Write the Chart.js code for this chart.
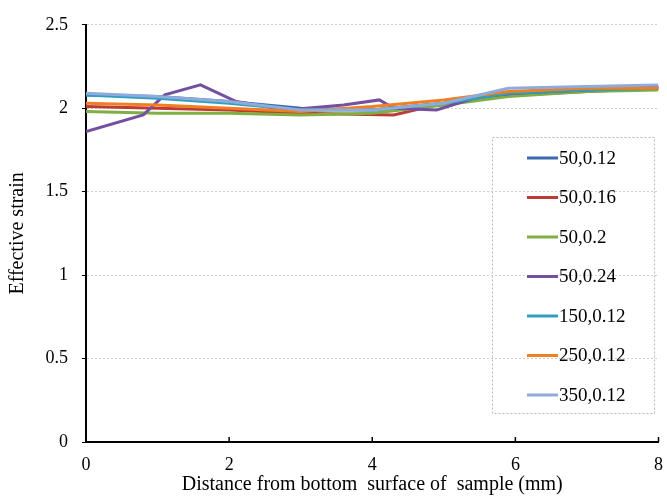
<!DOCTYPE html>
<html lang="en">
<head>
    <meta charset="UTF-8">
    <script src="https://cdn.jsdelivr.net/npm/chart.js"></script>
    <title>Effective strain</title>
    <style>
        body { margin: 0; background: #fff; }
        #wrap { width: 667px; height: 497px; }
    </style>
</head>
<body>
<div id="wrap"><canvas id="grafico"></canvas></div>

<script>
    // distances (mm)
    const xSmooth = [0, 1, 2, 3, 4, 5, 5.9, 7, 8];
    const xRed = [0, 1, 2, 3, 4.3, 5.2, 6, 7, 8];
    const xPurple = [0, 0.8, 1.1, 1.6, 2.1, 2.8, 3.6, 4.1, 4.3, 4.9, 5.5, 6, 7, 8];

    const labels = ['50,0.12', '50,0.16', '50,0.2', '50,0.24', '150,0.12', '250,0.12', '350,0.12'];
    const colors = ['#3a69b0', '#be3b35', '#7fae42', '#7350a0', '#2f9fc1', '#f07f22', '#8eabdb'];

    const s50_012 = [2.08, 2.07, 2.04, 2.00, 1.99, 2.03, 2.09, 2.11, 2.12];
    const s50_016 = [2.01, 2.00, 1.99, 1.97, 1.96, 2.05, 2.08, 2.10, 2.12];
    const s50_02 = [1.98, 1.97, 1.97, 1.96, 1.97, 2.02, 2.07, 2.10, 2.11];
    const s50_024 = [1.86, 1.96, 2.08, 2.14, 2.04, 1.99, 2.02, 2.05, 2.00, 1.99, 2.07, 2.09, 2.11, 2.13];
    const s150_012 = [2.08, 2.06, 2.03, 1.99, 1.99, 2.03, 2.09, 2.11, 2.12];
    const s250_012 = [2.03, 2.02, 2.00, 1.98, 2.01, 2.05, 2.10, 2.12, 2.12];
    const s350_012 = [2.09, 2.07, 2.04, 1.99, 1.99, 2.03, 2.12, 2.13, 2.14];

    const xTicks = [0, 2, 4, 6, 8];
    const yTicks = [0, 0.5, 1, 1.5, 2, 2.5];

    const series = [
        [xSmooth, s50_012], [xRed, s50_016], [xSmooth, s50_02], [xPurple, s50_024],
        [xSmooth, s150_012], [xSmooth, s250_012], [xSmooth, s350_012]
    ];

    const datasets = series.map((s, i) => ({
        label: labels[i],
        data: s[0].map((x, j) => ({x: x, y: s[1][j]})),
        borderColor: colors[i],
        backgroundColor: colors[i],
        borderWidth: 3,
        pointRadius: 0,
        tension: 0,
        order: 6 - i
    }));

    const fonte = 'Liberation Serif, Times New Roman, serif';

    // x tick marks pointing up, and the dotted legend box
    const extras = {
        id: 'extras',
        afterDraw(chart) {
            const ctx = chart.ctx;
            const xs = chart.scales.x;
            const bottom = chart.chartArea.bottom;
            ctx.save();
            ctx.strokeStyle = '#000';
            ctx.lineWidth = 1.5;
            xTicks.forEach(v => {
                const px = xs.getPixelForValue(v);
                ctx.beginPath();
                ctx.moveTo(px, bottom);
                ctx.lineTo(px, bottom - 5);
                ctx.stroke();
            });

            // legend
            ctx.strokeStyle = '#b8b8b8';
            ctx.lineWidth = 1;
            ctx.setLineDash([2, 2]);
            ctx.strokeRect(492.5, 137.5, 162, 276);
            ctx.setLineDash([]);
            ctx.font = '19px ' + fonte;
            ctx.textBaseline = 'middle';
            ctx.fillStyle = '#000';
            chart.data.datasets.forEach((ds, i) => {
                const y = 158 + i * 39.5;
                ctx.strokeStyle = ds.borderColor;
                ctx.lineWidth = 3;
                ctx.beginPath();
                ctx.moveTo(527, y);
                ctx.lineTo(558, y);
                ctx.stroke();
                ctx.fillText(ds.label, 559, y + 1);
            });
            ctx.restore();
        }
    };

    new Chart(document.getElementById('grafico'), {
        type: 'line',
        data: { datasets: datasets },
        options: {
            responsive: true,
            maintainAspectRatio: false,
            animation: false,
            layout: { padding: { top: 21, right: 5, left: 0, bottom: 0 } },
            plugins: {
                legend: { display: false },
                tooltip: { enabled: false }
            },
            scales: {
                x: {
                    type: 'linear',
                    min: 0, max: 8,
                    afterBuildTicks: s => { s.ticks = xTicks.map(v => ({value: v})); },
                    afterFit: s => { s.height = 55; },
                    grid: { display: false },
                    border: { color: '#000', width: 2 },
                    ticks: { color: '#000', padding: 4, font: { family: fonte, size: 18 } },
                    title: {
                        display: true,
                        text: 'Distance from bottom  surface of  sample (mm)',
                        color: '#000',
                        font: { family: fonte, size: 20 },
                        padding: { top: 0, bottom: 0 }
                    }
                },
                y: {
                    min: 0, max: 2.5,
                    afterBuildTicks: s => { s.ticks = yTicks.map(v => ({value: v})); },
                    afterFit: s => { s.width = 86; },
                    grid: {
                        color: c => c.tick.value === 0 ? 'rgba(0,0,0,0)' : '#cfcfcf',
                        tickColor: '#000',
                        tickLength: 4,
                        lineWidth: 1
                    },
                    border: { color: '#000', width: 2, dash: [2, 2] },
                    ticks: {
                        color: '#000',
                        padding: 14,
                        font: { family: fonte, size: 18 },
                        callback: v => String(v)
                    },
                    title: {
                        display: true,
                        text: 'Effective strain',
                        color: '#000',
                        font: { family: fonte, size: 20 },
                        padding: { top: 6, bottom: 0 }
                    }
                }
            }
        },
        plugins: [extras]
    });
</script>
</body>
</html>
